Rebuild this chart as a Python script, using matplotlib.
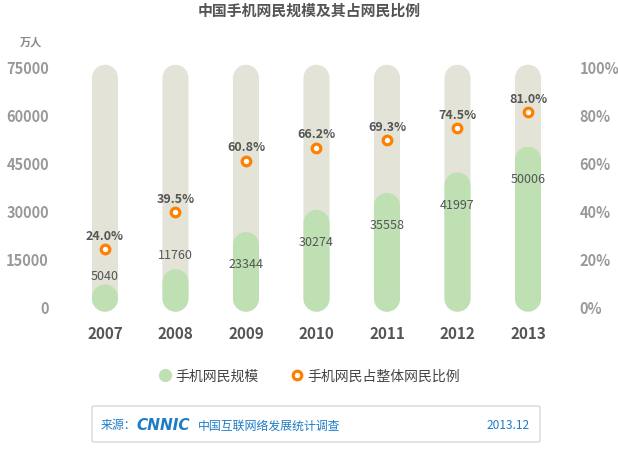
import matplotlib.pyplot as plt
from matplotlib.lines import Line2D
from matplotlib.patches import FancyBboxPatch

plt.rcParams['font.family'] = ['Noto Sans CJK SC', 'DejaVu Sans']

# data
years = ['2007', '2008', '2009', '2010', '2011', '2012', '2013']
users = [5040, 11760, 23344, 30274, 35558, 41997, 50006]      # 万人
share = [24.0, 39.5, 60.8, 66.2, 69.3, 74.5, 81.0]            # %
left_ticks = [0, 15000, 30000, 45000, 60000, 75000]
right_ticks = [0, 20, 40, 60, 80, 100]

gray = '#e3e3d8'
green = '#bee0b3'
orange = '#ff7f00'
dark = '#555555'
axis_gray = '#999999'
blue = '#1f7cc4'

fig = plt.figure(figsize=(6.18, 4.52), dpi=100)
ax = fig.add_axes([60 / 618, 132 / 452, 510 / 618, 265 / 452])
ylo, yhi = -3844, 78969
ax.set_ylim(ylo, yhi)
ax.set_xlim(-0.638, 6.596)
x = list(range(len(years)))

# capsule geometry (13 px radius)
px_per_unit = 265 / (yhi - ylo)
r = 13 / px_per_unit
lw = 26 * 72 / 100
bottom_edge = -1560
top_edge = 75620

for i, v in enumerate(users):
    ax.plot([i, i], [bottom_edge + r, top_edge - r], color=gray, lw=lw,
            solid_capstyle='round', zorder=1, snap=False)
    ax.plot([i, i], [bottom_edge + r, max(v - r, bottom_edge + r + 400)], color=green,
            lw=lw, solid_capstyle='round', zorder=2, snap=False)
    if v > 14000:
        ax.annotate(str(v), (i, v), xytext=(0, -23), textcoords='offset points',
                    ha='center', va='center', fontsize=9, color=dark, zorder=5)
    else:
        ax.annotate(str(v), (i, v), xytext=(0, 6), textcoords='offset points',
                    ha='center', va='bottom', fontsize=9, color=dark, zorder=5)

ax.set_yticks(left_ticks)
ax.set_yticklabels([str(t) for t in left_ticks], fontsize=10.5,
                   color=axis_gray, fontweight='bold')
ax.set_xticks(x)
ax.set_xticklabels(years, fontsize=11, fontweight='bold', color=dark)
ax.tick_params(axis='y', length=0, pad=8)
ax.tick_params(axis='x', length=0, pad=4)
for s in ax.spines.values():
    s.set_visible(False)

ax2 = ax.twinx()
ax2.set_ylim(ylo / 75000 * 100, yhi / 75000 * 100)
ax2.plot(x, share, linestyle='none', marker='o', markersize=6.2,
         markerfacecolor='white', markeredgecolor=orange, markeredgewidth=2.3,
         zorder=6)
for i, p in enumerate(share):
    ax2.annotate(f'{p:.1f}%', (i, p), xytext=(0, 10), textcoords='offset points',
                 ha='center', va='center', fontsize=9, fontweight='bold', color=dark)
ax2.set_yticks(right_ticks)
ax2.set_yticklabels([f'{t}%' for t in right_ticks], fontsize=10.5,
                    color=axis_gray, fontweight='bold')
ax2.tick_params(axis='y', length=0, pad=7)
for s in ax2.spines.values():
    s.set_visible(False)

fig.text(0.5, 1 - 11 / 452, '中国手机网民规模及其占网民比例', ha='center', va='center',
         fontsize=10.7, fontweight='bold', color=dark)
fig.text(31 / 618, 1 - 42 / 452, '万人', ha='center', va='center',
         fontsize=8, fontweight='bold', color='#888888')

handles = [
    Line2D([], [], linestyle='none', marker='o', markersize=8.5,
           markerfacecolor=green, markeredgecolor=green),
    Line2D([], [], linestyle='none', marker='o', markersize=6.2,
           markerfacecolor='white', markeredgecolor=orange, markeredgewidth=2.3),
]
fig.legend(handles, ['手机网民规模', '手机网民占整体网民比例'], loc='center',
           bbox_to_anchor=(0.5, 1 - 377 / 452), ncol=2, frameon=False,
           fontsize=10, labelcolor='#444444', handletextpad=0.3,
           columnspacing=2.2, handlelength=1.0)

box = FancyBboxPatch((92 / 618, 1 - 443 / 452), (540 - 92) / 618, 36 / 452,
                     boxstyle='round,pad=0,rounding_size=0.004',
                     transform=fig.transFigure, facecolor='white',
                     edgecolor='#d8d8d8', linewidth=1.0)
fig.patches.append(box)
ty = 1 - 426 / 452
fig.text(101 / 618, ty, '来源：', ha='left', va='center', fontsize=8.6, color=blue)
fig.text(136 / 618, ty, 'CNNIC', ha='left', va='center', fontsize=11,
         fontweight='heavy', style='italic', color=blue, family='DejaVu Sans')
fig.text(198 / 618, ty, '中国互联网络发展统计调查', ha='left', va='center',
         fontsize=8.6, color=blue)
fig.text(530 / 618, ty, '2013.12', ha='right', va='center', fontsize=8.6, color=blue)

fig.savefig('out.png', dpi=100)
